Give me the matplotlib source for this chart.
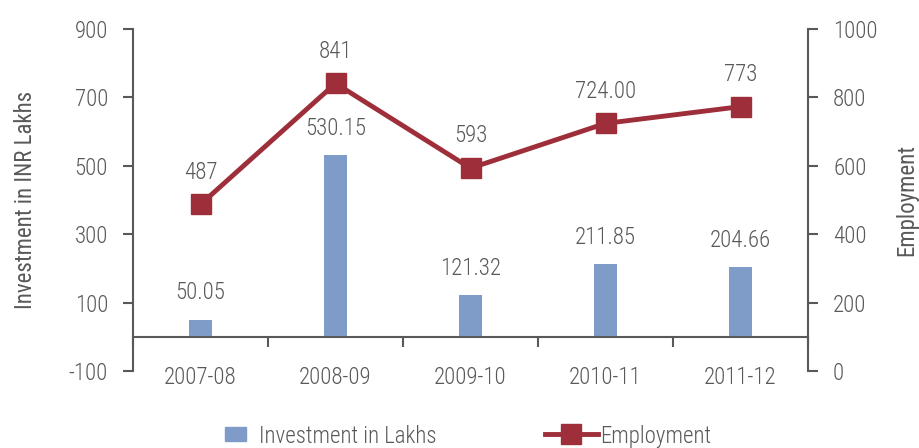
import matplotlib
matplotlib.use("Agg")
import matplotlib.pyplot as plt
from matplotlib import font_manager
from matplotlib.patches import Patch
from matplotlib.lines import Line2D
import numpy as np

years = ["2007-08", "2008-09", "2009-10", "2010-11", "2011-12"]
investment = [50.05, 530.15, 121.32, 211.85, 204.66]
employment = [487, 841, 593, 724, 773]
employment_labels = ["487", "841", "593", "724.00", "773"]

names = {f.name for f in font_manager.fontManager.ttflist}
preferred = ["Roboto Condensed", "IBM Plex Sans Condensed", "Fira Sans Condensed",
             "Open Sans Condensed", "Archivo Narrow", "PT Sans Narrow",
             "Sofia Sans Condensed", "Liberation Sans Narrow"]
family = [n for n in preferred if n in names][:1] + ["DejaVu Sans"]
plt.rcParams["font.family"] = family
plt.rcParams["font.weight"] = "light"
plt.rcParams["axes.unicode_minus"] = False

text_col = "#595959"
axis_col = "#595959"
bar_col = "#7f9cc9"
line_col = "#9e2f3a"
fs = 16.5

fig = plt.figure(figsize=(9.19, 4.48), dpi=100)
ax = fig.add_axes([133 / 919, 1 - 371 / 448, 675 / 919, 342 / 448])
ax2 = ax.twinx()

x = np.arange(len(years))
ax.bar(x, investment, width=0.17, color=bar_col, zorder=2)
ax.set_xlim(-0.5, len(years) - 0.5)
ax.set_ylim(-100, 900)
ax.set_yticks([-100, 100, 300, 500, 700, 900])

for xi, v in zip(x, investment):
    ax.annotate(f"{v:.2f}", (xi, v), xytext=(0, 11), textcoords="offset points",
                ha="center", va="bottom", fontsize=fs, color=text_col)

ax2.plot(x, employment, color=line_col, lw=3.5, marker="s", markersize=14, zorder=3)
ax2.set_ylim(0, 1000)
ax2.set_yticks([0, 200, 400, 600, 800, 1000])
for xi, v, lab in zip(x, employment, employment_labels):
    ax2.annotate(lab, (xi, v), xytext=(0, 15), textcoords="offset points",
                 ha="center", va="bottom", fontsize=fs, color=text_col)

# Spines: category axis sits at investment zero
for a in (ax, ax2):
    a.spines["top"].set_visible(False)
ax.spines["right"].set_visible(False)
ax2.spines["left"].set_visible(False)
ax2.spines["bottom"].set_visible(False)
ax.spines["bottom"].set_position(("data", 0))
for s in (ax.spines["left"], ax.spines["bottom"], ax2.spines["right"]):
    s.set_color(axis_col)
    s.set_linewidth(1.5)

ax.set_xticks(np.arange(-0.5, len(years), 1.0))
ax.set_xticklabels([])
ax.set_xticks(x, minor=True)
ax.set_xticklabels(years, minor=True)
ax.tick_params(axis="x", which="major", direction="out", length=7, width=1.5, color=axis_col)
ax.tick_params(axis="x", which="minor", length=0, pad=21, labelsize=fs, labelcolor=text_col)
ax.tick_params(axis="y", direction="out", length=7, width=1.5, color=axis_col,
               labelsize=fs, labelcolor=text_col, pad=11)
ax2.tick_params(axis="y", direction="out", length=7, width=1.5, color=axis_col,
                labelsize=fs, labelcolor=text_col, pad=11)

ax.set_ylabel("Investment in INR Lakhs", fontsize=fs, color=text_col, labelpad=23)
ax2.set_ylabel("Employment", fontsize=fs, color=text_col, labelpad=13)

# Legend: two entries placed side by side under the axes
leg1 = fig.legend(handles=[Patch(color=bar_col, label="Investment in Lakhs")],
                  loc="center left", bbox_to_anchor=(225 / 919, 1 - 436 / 448),
                  frameon=False, fontsize=fs, handlelength=0.92, handleheight=0.57,
                  handletextpad=0.57, borderpad=0, borderaxespad=0,
                  labelcolor=text_col)
leg2 = fig.legend(handles=[Line2D([0], [0], color=line_col, lw=3.5, marker="s",
                                  markersize=14, label="Employment")],
                  loc="center left", bbox_to_anchor=(545 / 919, 1 - 436 / 448),
                  frameon=False, fontsize=fs, handlelength=2.3,
                  handletextpad=0.1, borderpad=0, borderaxespad=0,
                  labelcolor=text_col)

fig.savefig("out.png", dpi=100)
